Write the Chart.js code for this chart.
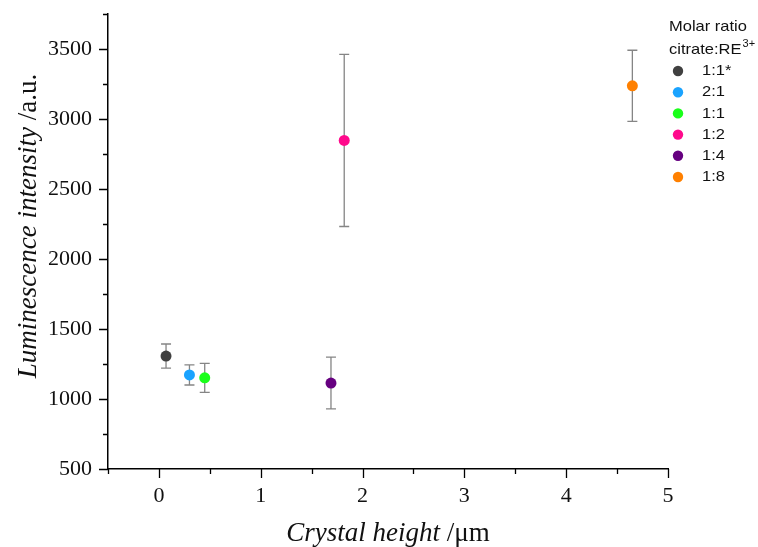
<!DOCTYPE html>
<html>
<head>
<meta charset="utf-8">
<script src="https://cdn.jsdelivr.net/npm/chart.js@4/dist/chart.umd.min.js"></script>
<style>
  html, body { margin: 0; padding: 0; background: #fff; }
  #wrap { width: 758px; height: 547px; position: relative; }
</style>
</head>
<body>
<div id="wrap"><canvas id="chart"></canvas></div>
<script>
// Molar ratio citrate:RE3+ of each sample
const ratios = ['1:1*', '2:1', '1:1', '1:2', '1:4', '1:8'];
// Crystal height (µm)
const heights = [0.07, 0.30, 0.45, 1.82, 1.69, 4.65];
// Luminescence intensity (a.u.)
const intensity = [1307, 1172, 1151, 2847, 1114, 3237];
// Error (± a.u.)
const intensityErr = [86, 72, 103, 615, 185, 254];
const colors = ['#404040', '#1aa3ff', '#1aff1a', '#ff0a8c', '#660080', '#ff8000'];

const xTicks = [0, 1, 2, 3, 4, 5];
const yTicks = [500, 1000, 1500, 2000, 2500, 3000, 3500];

const SERIF = "'Liberation Serif', 'Times New Roman', serif";
const SANS = "'Liberation Sans', Arial, sans-serif";

const datasets = ratios.map((r, i) => ({
  label: r,
  data: [{ x: heights[i], y: intensity[i], err: intensityErr[i] }],
  backgroundColor: colors[i],
  borderWidth: 0,
  pointRadius: 5.5,
  pointHoverRadius: 5.5,
  showLine: false
}));

// vertical error bars with caps, drawn beneath the markers
const errorBars = {
  id: 'errorBars',
  beforeDatasetsDraw(chart) {
    const { ctx, scales: { x, y } } = chart;
    ctx.save();
    ctx.strokeStyle = '#858585';
    ctx.lineWidth = 1.3;
    chart.data.datasets.forEach(ds => {
      ds.data.forEach(p => {
        const px = x.getPixelForValue(p.x);
        const top = y.getPixelForValue(p.y + p.err);
        const bot = y.getPixelForValue(p.y - p.err);
        ctx.beginPath();
        ctx.moveTo(px, top); ctx.lineTo(px, bot);
        ctx.moveTo(px - 5, top); ctx.lineTo(px + 5, top);
        ctx.moveTo(px - 5, bot); ctx.lineTo(px + 5, bot);
        ctx.stroke();
      });
    });
    ctx.restore();
  }
};

// outward major/minor tick marks, axis titles and legend
const decorations = {
  id: 'decorations',
  afterDraw(chart) {
    const { ctx, scales: { x, y }, chartArea } = chart;
    ctx.save();
    ctx.strokeStyle = '#000';
    ctx.lineWidth = 1.3;
    ctx.beginPath();
    y.ticks.forEach(t => {
      const py = Math.round(y.getPixelForValue(t.value)) + 0.5;
      const len = (t.value % 500 === 0) ? 9 : 5;
      ctx.moveTo(chartArea.left, py); ctx.lineTo(chartArea.left - len, py);
    });
    x.ticks.forEach(t => {
      const px = Math.round(x.getPixelForValue(t.value)) + 0.5;
      const len = Number.isInteger(t.value) ? 9 : 5;
      ctx.moveTo(px, chartArea.bottom); ctx.lineTo(px, chartArea.bottom + len);
    });
    ctx.stroke();

    // axis titles: italic quantity, upright unit
    ctx.fillStyle = '#111';
    const fs = 27;
    const drawTitle = (parts, cx, cy, rot) => {
      let total = 0;
      parts.forEach(p => { ctx.font = p[1] + ' ' + fs + 'px ' + SERIF; total += ctx.measureText(p[0]).width; });
      ctx.save();
      ctx.translate(cx, cy);
      ctx.rotate(rot);
      ctx.textBaseline = 'alphabetic';
      ctx.textAlign = 'left';
      let pos = -total / 2;
      parts.forEach(p => {
        ctx.font = p[1] + ' ' + fs + 'px ' + SERIF;
        ctx.fillText(p[0], pos, 0);
        pos += ctx.measureText(p[0]).width;
      });
      ctx.restore();
    };
    drawTitle([['Crystal height', 'italic'], [' /\u03bcm', 'normal']], (chartArea.left + chartArea.right) / 2, 541, 0);
    drawTitle([['Luminescence intensity', 'italic'], [' /a.u.', 'normal']], 36, 226, -Math.PI / 2);

    // legend
    const lx = 669;
    ctx.fillStyle = '#111';
    ctx.textAlign = 'left';
    ctx.textBaseline = 'middle';
    ctx.save();
    ctx.translate(lx, 0);
    ctx.scale(1.1, 1);
    ctx.font = '15px ' + SANS;
    ctx.fillText('Molar ratio', 0, 27);
    ctx.fillText('citrate:RE', 0, 50);
    const w = ctx.measureText('citrate:RE').width;
    ctx.font = '10px ' + SANS;
    ctx.fillText('3+', w + 1, 44);
    ctx.restore();
    chart.data.datasets.forEach((ds, i) => {
      const cy = 71 + i * 21.2;
      ctx.beginPath();
      ctx.fillStyle = ds.backgroundColor;
      ctx.arc(678, cy, 5.2, 0, Math.PI * 2);
      ctx.fill();
      ctx.fillStyle = '#111';
      ctx.save();
      ctx.translate(702, cy);
      ctx.scale(1.1, 1);
      ctx.font = '15px ' + SANS;
      ctx.fillText(ds.label, 0, 0);
      ctx.restore();
    });
    ctx.restore();
  }
};

new Chart(document.getElementById('chart'), {
  type: 'scatter',
  data: { datasets },
  options: {
    responsive: true,
    maintainAspectRatio: false,
    animation: false,
    devicePixelRatio: 1,
    layout: { padding: { left: 0, right: 90, top: 14, bottom: 0 } },
    plugins: { legend: { display: false }, tooltip: { enabled: false } },
    scales: {
      x: {
        type: 'linear',
        min: -0.5,
        max: 5,
        afterFit(scale) { scale.height = 78; scale.paddingLeft = 0; scale.paddingRight = 0; },
        grid: { display: false, drawTicks: false, tickLength: 0 },
        border: { display: true, color: '#000', width: 1.5 },
        ticks: {
          stepSize: 0.5,
          autoSkip: false,
          maxRotation: 0,
          padding: 14,
          color: '#111',
          font: { family: SERIF, size: 22 },
          callback: v => xTicks.includes(v) ? String(v) : ''
        }
      },
      y: {
        min: 500,
        max: 3750,
        afterFit(scale) { scale.width = 108; scale.paddingTop = 0; scale.paddingBottom = 0; },
        grid: { display: false, drawTicks: false, tickLength: 0 },
        border: { display: true, color: '#000', width: 1.5 },
        ticks: {
          stepSize: 250,
          autoSkip: false,
          padding: 16,
          color: '#111',
          font: { family: SERIF, size: 22 },
          callback: v => yTicks.includes(v) ? String(v) : ''
        }
      }
    }
  },
  plugins: [errorBars, decorations]
});
</script>
</body>
</html>
